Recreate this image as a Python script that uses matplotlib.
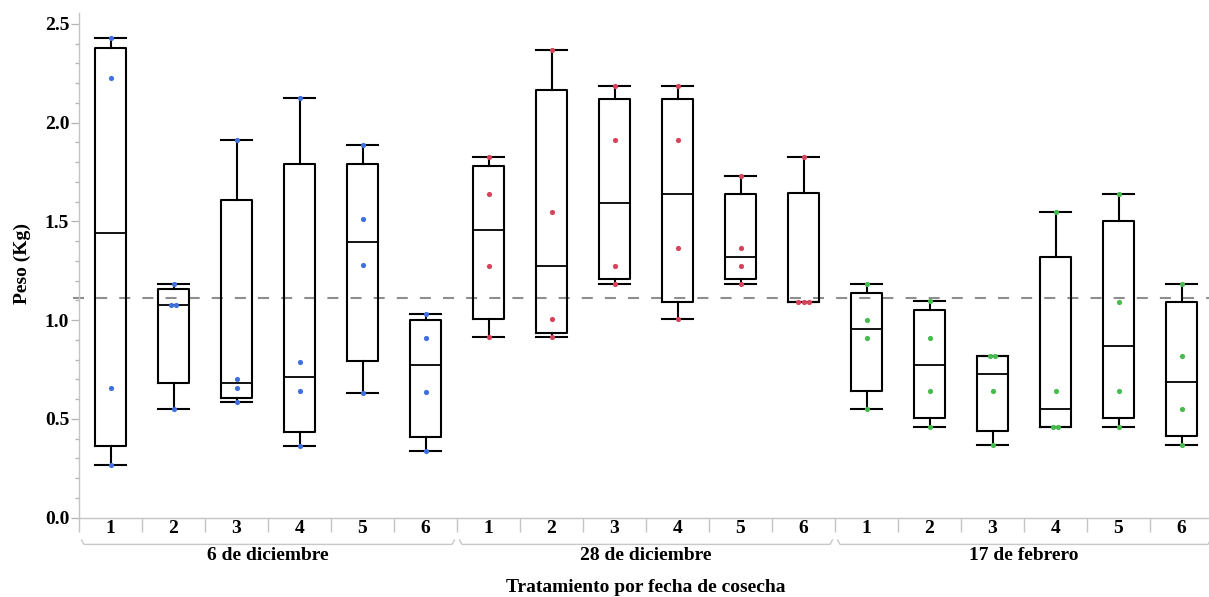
import numpy as np
import matplotlib
matplotlib.use("Agg")
import matplotlib.pyplot as plt
from matplotlib.transforms import blended_transform_factory

plt.rcParams['font.family'] = ['Liberation Serif', 'DejaVu Serif']
plt.rcParams['font.weight'] = 'bold'

# ---------------- data ----------------
dates = ['6 de diciembre', '28 de diciembre', '17 de febrero']
treatments = ['1', '2', '3', '4', '5', '6']

dic6 = [
    [0.268, 0.658, 2.226, 2.430],
    [0.550, 1.077, 1.077, 1.185],
    [0.587, 0.658, 0.704, 1.912],
    [0.365, 0.641, 0.788, 2.125],
    [0.631, 1.280, 1.511, 1.887],
    [0.336, 0.636, 0.910, 1.030],
]
dic28 = [
    [0.913, 1.276, 1.640, 1.825],
    [0.913, 1.004, 1.549, 2.369],
    [1.185, 1.276, 1.914, 2.187],
    [1.004, 1.366, 1.914, 2.187],
    [1.185, 1.276, 1.366, 1.731],
    [1.093, 1.093, 1.093, 1.825],
]
feb17 = [
    [0.550, 0.911, 1.003, 1.185],
    [0.458, 0.640, 0.911, 1.097],
    [0.370, 0.640, 0.820, 0.820],
    [0.458, 0.458, 0.640, 1.549],
    [0.458, 0.640, 1.094, 1.641],
    [0.370, 0.550, 0.820, 1.185],
]
point_colors = ['#4070e0', '#d8435b', '#46bb4e']
y_label = 'Peso (Kg)'
x_title = 'Tratamiento por fecha de cosecha'

groups = [dic6, dic28, feb17]

# ---------------- figure ----------------
W, H = 1209, 597
fig = plt.figure(figsize=(W / 100, H / 100), dpi=100)
ax_left, ax_bottom_px, ax_top_px, cat_px = 79, 517.7, 12.7, 63
ax = fig.add_axes([ax_left / W, (H - ax_bottom_px) / H,
                   18 * cat_px / W, (ax_bottom_px - ax_top_px) / H])

stats, positions = [], []
for g, grp in enumerate(groups):
    for t, vals in enumerate(grp):
        v = np.array(vals)
        q1, med, q3 = np.percentile(v, [25, 50, 75], method='weibull')
        stats.append(dict(med=med, q1=q1, q3=q3, whislo=v.min(),
                          whishi=v.max(), fliers=[]))
        pos = g * 6 + t
        positions.append(pos)
        uniq, counts = np.unique(v, return_counts=True)
        for u, c in zip(uniq, counts):
            offs = (np.arange(c) - (c - 1) / 2) * 0.085
            ax.scatter(pos + offs, [u] * c, s=14, color=point_colors[g],
                       linewidths=0, zorder=4)

lw = 1.5
ax.bxp(stats, positions=positions, widths=0.49, showfliers=False,
       boxprops=dict(color='black', linewidth=lw),
       whiskerprops=dict(color='black', linewidth=lw),
       capprops=dict(color='black', linewidth=lw),
       medianprops=dict(color='black', linewidth=1.3),
       capwidths=0.49, manage_ticks=False, zorder=3)

all_vals = np.concatenate([np.ravel(np.array(x)) for x in groups])
grand_mean = all_vals.mean()
ax.plot([-0.6, 17.6], [grand_mean, grand_mean], color='#8e8e8e', lw=1.5,
        ls=(0, (5.3, 5.8)), clip_on=False, zorder=2)

ax.set_xlim(-0.5, 17.5)
ax.set_ylim(0, 2.557)

for s in ['top', 'right']:
    ax.spines[s].set_visible(False)
for s in ['left', 'bottom']:
    ax.spines[s].set_color('#c4c4c4')
    ax.spines[s].set_linewidth(1.0)

ax.set_yticks(np.arange(0, 2.51, 0.5))
ax.set_yticklabels([f'{v:.1f}' for v in np.arange(0, 2.51, 0.5)])
ax.set_yticks(np.arange(0, 2.56, 0.1), minor=True)
ax.tick_params(axis='y', which='major', length=5.5, width=0.9, color='#b4b4b4',
               labelsize=14, pad=1.5)
ax.tick_params(axis='y', which='minor', length=2.8, width=0.9, color='#b4b4b4')

ax.set_xticks(positions)
ax.set_xticklabels(treatments * 3)
ax.set_xticks(np.arange(-0.5, 17.6, 1), minor=True)
ax.tick_params(axis='x', which='major', length=0, labelsize=14, pad=2)
ax.tick_params(axis='x', which='minor', length=10, width=1.0, color='#c4c4c4')

trans = blended_transform_factory(ax.transData, ax.transAxes)
ax_h = ax_bottom_px - ax_top_px
yb = -(544.4 - ax_bottom_px) / ax_h
yu = -(540.0 - ax_bottom_px) / ax_h
for g, name in enumerate(dates):
    x0, x1 = g * 6 - 0.46, g * 6 + 5.46
    ax.plot([x0, x0 + 0.04, x1 - 0.04, x1], [yu, yb, yb, yu], color='#c8c8c8',
            lw=1.0, transform=trans, clip_on=False)
    ax.text(g * 6 + 2.5, -(555 - ax_bottom_px) / ax_h, name, transform=trans,
            ha='center', va='center', fontsize=14, fontweight='bold')

ax.text(8.5, -(587 - ax_bottom_px) / ax_h, x_title, transform=trans,
        ha='center', va='center', fontsize=14, fontweight='bold')
fig.text(22 / W, (H - 264) / H, y_label, rotation=90, ha='center',
         va='center', fontsize=14, fontweight='bold')

fig.savefig('out.png', dpi=100)
